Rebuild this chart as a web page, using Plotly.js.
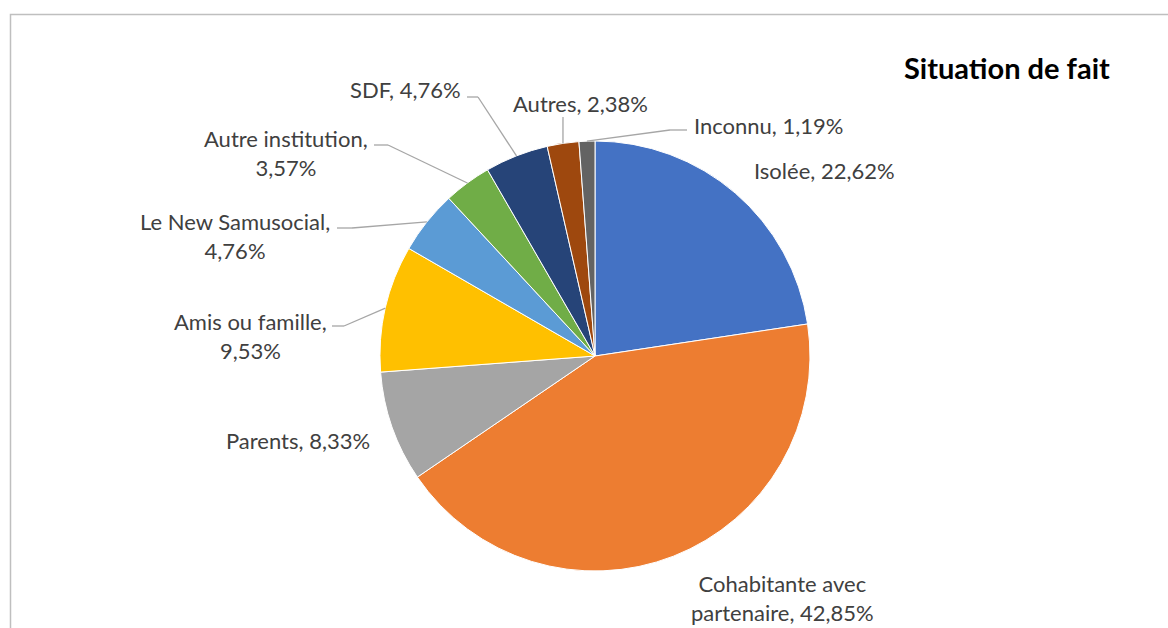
<!DOCTYPE html>
<html>
<head>
<meta charset="utf-8">
<script src="https://cdn.plot.ly/plotly-3.0.1.min.js"></script>
<style>html,body{margin:0;padding:0;background:#fff;}#chart{width:1168px;height:628px;}</style>
</head>
<body>
<div id="chart"></div>
<script>
// ---- data ----
const categories = ["Isolée", "Cohabitante avec partenaire", "Parents", "Amis ou famille", "Le New Samusocial", "Autre institution", "SDF", "Autres", "Inconnu"];
const values = [22.62, 42.85, 8.33, 9.53, 4.76, 3.57, 4.76, 2.38, 1.19];
const valueLabels = ["22,62%", "42,85%", "8,33%", "9,53%", "4,76%", "3,57%", "4,76%", "2,38%", "1,19%"];
const labelTexts = ["Isolée, 22,62%", "Cohabitante avec<br>partenaire, 42,85%", "Parents, 8,33%", "Amis ou famille,<br>9,53%", "Le New Samusocial,<br>4,76%", "Autre institution,<br>3,57%", "SDF, 4,76%", "Autres, 2,38%", "Inconnu, 1,19%"];
const colors = ["#4472C4", "#ED7D31", "#A5A5A5", "#FFC000", "#5B9BD5", "#70AD47", "#264478", "#9E480E", "#636363"];
const titleText = "Situation de fait";

// ---- layout geometry (pixels) ----
const W = 1168, H = 628;
const cx = 595, cy = 356, R = 215;
// label placement: [x, y, xanchor, hasLeader, elbowX, elbowY, lineEndX]
const labelPos = [
  [752, 170, "left", false],
  [782, 598, "center", false],
  [372, 440, "right", false],
  [329, 336, "right", true, 344, 326, 332],
  [332, 236, "right", true, 352, 228, 337],
  [370, 153, "right", true, 388, 145, 374],
  [463, 90, "right", true, 478, 97, 467],
  [580, 104, "center", true, 563, 117, 563],
  [692, 125, "left", true, 670, 130, 687]
];

const px = x => x / W;
const py = y => 1 - y / H;

const total = values.reduce((a, b) => a + b, 0);
let cum = 0;
const shapes = [];
const annotations = [];
values.forEach((v, i) => {
  const mid = (cum + v / 2) / total * 2 * Math.PI;
  cum += v;
  const ex = cx + R * Math.sin(mid);
  const ey = cy - R * Math.cos(mid);
  const p = labelPos[i];
  annotations.push({
    x: px(p[0]), y: py(p[1]), xref: "paper", yref: "paper",
    xanchor: p[2], yanchor: "middle", align: "center",
    text: labelTexts[i], showarrow: false,
    font: {family: "Lato, 'Open Sans', sans-serif", size: 22, color: "#404040"}
  });
  if (p[3]) {
    const lc = {color: "#A6A6A6", width: 1.3};
    shapes.push({type: "line", xref: "paper", yref: "paper", x0: px(ex), y0: py(ey), x1: px(p[4]), y1: py(p[5]), line: lc});
    shapes.push({type: "line", xref: "paper", yref: "paper", x0: px(p[4]), y0: py(p[5]), x1: px(p[6]), y1: py(p[5]), line: lc});
  }
});

// chart border
shapes.push({type: "rect", xref: "paper", yref: "paper", x0: px(10.5), y0: -0.05, x1: 1.05, y1: py(14.5), line: {color: "#BFBFBF", width: 1.5}, fillcolor: "rgba(0,0,0,0)"});

annotations.push({
  x: px(1112), y: py(68), xref: "paper", yref: "paper", xanchor: "right", yanchor: "middle",
  text: "<b>" + titleText + "</b>", showarrow: false,
  font: {family: "Lato, 'Open Sans', sans-serif", size: 29, color: "#000000"}
});

const trace = {
  type: "pie",
  labels: categories,
  values: values,
  sort: false,
  direction: "clockwise",
  rotation: 0,
  textinfo: "none",
  hoverinfo: "skip",
  marker: {colors: colors, line: {color: "#FFFFFF", width: 1}},
  domain: {x: [px(cx - R), px(cx + R)], y: [py(cy + R), py(cy - R)]},
  showlegend: false
};

const layout = {
  width: W, height: H,
  margin: {l: 0, r: 0, t: 0, b: 0},
  paper_bgcolor: "#FFFFFF",
  showlegend: false,
  shapes: shapes,
  annotations: annotations
};

Plotly.newPlot("chart", [trace], layout, {displayModeBar: false, staticPlot: true});
</script>
</body>
</html>
